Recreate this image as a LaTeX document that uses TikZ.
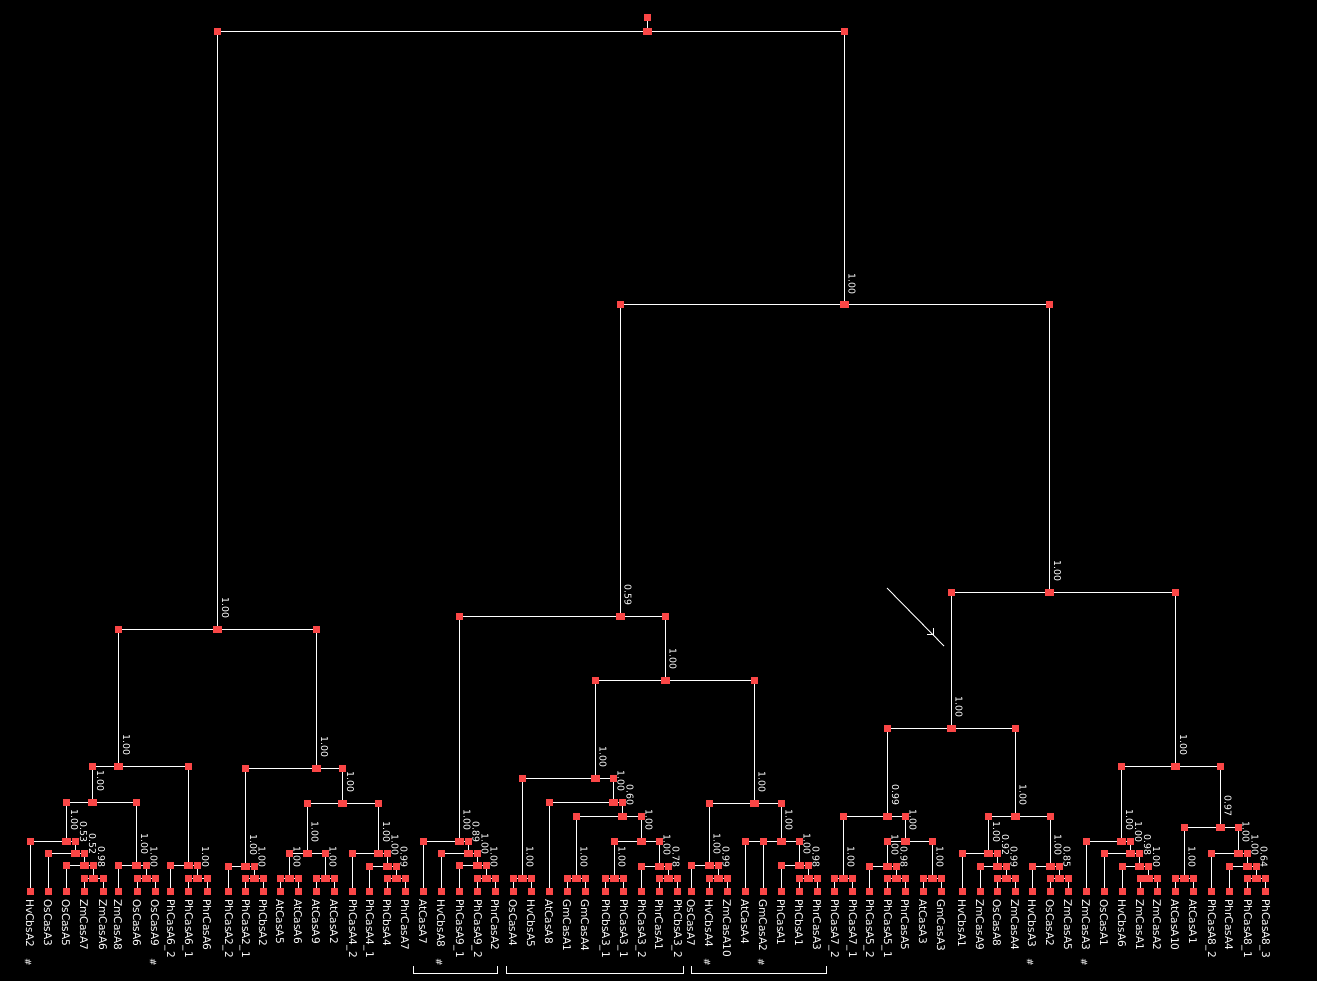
\documentclass[tikz,border=0pt]{standalone}
\usepackage{fontspec}
\setmainfont{DejaVu Sans}
\usetikzlibrary{calc}
\definecolor{sqred}{RGB}{250,70,70}
\pgfdeclarelayer{bg}
\pgfdeclarelayer{edges}
\pgfsetlayers{bg,edges,main}
\tikzset{
  sq/.style={rectangle,fill=sqred,minimum size=7pt,inner sep=0pt,outer sep=0pt},
  csq/.style={sq,minimum width=9pt},
  edge/.style={draw=white,line width=1pt},
  blab/.style={rotate=-90,anchor=east,inner sep=0pt,text=white,font=\fontsize{9.4}{10}\selectfont},
  llab/.style={rotate=-90,anchor=west,inner sep=0pt,text=white,font=\fontsize{10.6}{11}\selectfont},
  hashmark/.style={rotate=-90,inner sep=0pt,text=white,font=\fontsize{9}{10}\selectfont},
  bracket/.style={draw=white,line width=0.8pt},
}
\newcommand\kid[2]{%
  \begin{pgfonlayer}{edges}\draw[edge] (#1.center) -| (#2.center);\end{pgfonlayer}%
  \node[sq] at (#2 |- #1) {};}
\newcommand\inode[4]{%
  \node[csq] (#1) at (#2,#3) {};
  \node[blab] at ($(#1.center)+(8,-10)$) {#4};}
\newcommand\bnode[3]{\node[csq] (#1) at (#2,#3) {};}
\begin{document}
\begin{tikzpicture}[x=1pt,y=-1pt]
\begin{pgfonlayer}{bg}
\fill[black] (0,0) rectangle (1317,981);
\end{pgfonlayer}
\useasboundingbox (0,0) rectangle (1317,981);
% leaves
\foreach \i/\x/\t in {1/30/HvCbsA2,2/48/OsCasA3,3/66/OsCasA5,4/84/ZmCasA7,5/103/ZmCasA6,
 6/118/ZmCasA8,7/137/OsCasA6,8/155/OsCasA9,9/170/PhCasA6\_2,10/188/PhCasA6\_1,
 11/207/PhrCasA6,12/228/PhCasA2\_2,13/245/PhCasA2\_1,14/263/PhCbsA2,15/280/AtCasA5,
 16/298/AtCasA6,17/316/AtCasA9,18/334/AtCasA2,19/352/PhCasA4\_2,20/369/PhCasA4\_1,
 21/387/PhCbsA4,22/405/PhrCasA7,23/423/AtCasA7,24/441/HvCbsA8,25/459/PhCasA9\_1,
 26/477/PhCasA9\_2,27/495/PhrCasA2,28/513/OsCasA4,29/531/HvCbsA5,30/549/AtCasA8,
 31/567/GmCasA1,32/585/GmCasA4,33/605/PhCbsA3\_1,34/623/PhCasA3\_1,35/641/PhCasA3\_2,
 36/659/PhrCasA1,37/677/PhCbsA3\_2,38/691/OsCasA7,39/709/HvCbsA4,40/727/ZmCasA10,
 41/745/AtCasA4,42/763/GmCasA2,43/781/PhCasA1,44/799/PhCbsA1,45/817/PhrCasA3,
 46/834/PhCasA7\_2,47/852/PhCasA7\_1,48/869/PhCasA5\_2,49/887/PhCasA5\_1,50/905/PhrCasA5,
 51/923/AtCasA3,52/941/GmCasA3,53/962/HvCbsA1,54/980/ZmCasA9,55/997/OsCasA8,
 56/1015/ZmCasA4,57/1032/HvCbsA3,58/1050/OsCasA2,59/1068/ZmCasA5,60/1086/ZmCasA3,
 61/1104/OsCasA1,62/1122/HvCbsA6,63/1140/ZmCasA1,64/1157/ZmCasA2,65/1175/AtCasA10,
 66/1193/AtCasA1,67/1211/PhCasA8\_2,68/1229/PhrCasA4,69/1247/PhCasA8\_1,70/1265/PhCasA8\_3}
{
  \node[sq] (L\i) at (\x,891) {};
  \node[llab] at (\x,899) {\t};
}
\foreach \x in {30,155,441,709,763,1032,1086}
  \node[hashmark] at (\x-2,962) {\#};
% internal nodes
\bnode{root}{647.5}{32}
\node[sq] (top) at (647.5,18) {};
\inode{A}{217.5}{629}{1.00}
\inode{A1}{118.5}{766}{1.00}
\inode{n1to8}{92.5}{802}{1.00}
\inode{n1to5}{66.5}{841}{1.00}
\inode{n2to5}{75.5}{853}{0.53}
\inode{n3to5}{84.5}{865}{0.52}
\inode{n4to5}{93.5}{878}{0.98}
\inode{n6to8}{136.5}{865}{1.00}
\inode{n7to8}{146}{878}{1.00}
\bnode{n9to11}{188.5}{865}
\inode{n10to11}{197.5}{878}{1.00}
\inode{A2}{316.5}{768}{1.00}
\inode{n12to14}{245.5}{866}{1.00}
\inode{n13to14}{254}{878}{1.00}
\inode{n15to22}{342.5}{803}{1.00}
\inode{n15to18}{307}{853}{1.00}
\inode{n15to16}{289}{878}{1.00}
\inode{n17to18}{325}{878}{1.00}
\inode{n19to22}{378.5}{853}{1.00}
\inode{n20to22}{387}{866}{1.00}
\inode{n21to22}{396}{878}{0.99}
\inode{B}{844}{305}{1.00}
\inode{B1}{620}{616}{0.59}
\inode{n23to27}{459}{841}{1.00}
\inode{n24to27}{468}{853}{0.89}
\inode{n25to27}{477}{865}{1.00}
\inode{n26to27}{486}{878}{1.00}
\inode{n28to45}{665}{680}{1.00}
\inode{n28to37}{595}{778}{1.00}
\inode{n28to29}{522}{878}{1.00}
\inode{n30to37}{613}{802}{1.00}
\inode{n31to37}{622}{816}{0.60}
\inode{n31to32}{576}{878}{1.00}
\inode{n33to37}{641}{841}{1.00}
\inode{n33to34}{614}{878}{1.00}
\inode{n35to37}{659}{866}{1.00}
\inode{n36to37}{668}{878}{0.78}
\inode{n38to45}{754}{803}{1.00}
\inode{n38to40}{709}{865}{1.00}
\inode{n39to40}{718}{878}{0.99}
\inode{n41to45}{781}{841}{1.00}
\inode{n43to45}{799}{865}{1.00}
\inode{n44to45}{808}{878}{0.98}
\inode{B2}{1049.5}{592}{1.00}
\inode{n46to59}{951}{728}{1.00}
\inode{n46to52}{887.5}{816}{0.99}
\inode{n46to47}{843}{878}{1.00}
\inode{n48to52}{905}{841}{1.00}
\inode{n48to50}{887}{866}{1.00}
\inode{n49to50}{896}{878}{0.98}
\inode{n51to52}{932}{878}{1.00}
\inode{n53to59}{1015}{816}{1.00}
\inode{n53to56}{988.5}{853}{1.00}
\inode{n54to56}{997.5}{866}{0.92}
\inode{n55to56}{1006}{878}{0.99}
\inode{n57to59}{1050}{866}{1.00}
\inode{n58to59}{1059}{878}{0.85}
\inode{n60to70}{1175.5}{766}{1.00}
\inode{n60to64}{1121.5}{841}{1.00}
\inode{n61to64}{1130.5}{853}{1.00}
\inode{n62to64}{1139.5}{866}{0.98}
\inode{n63to64}{1148.5}{878}{1.00}
\inode{n65to70}{1220}{827}{0.97}
\inode{n65to66}{1184}{878}{1.00}
\inode{n67to70}{1238}{853}{1.00}
\inode{n68to70}{1247}{866}{1.00}
\inode{n69to70}{1256}{878}{0.64}
% connectors
\begin{pgfonlayer}{edges}\draw[edge] (root.center) -- (top.center);\end{pgfonlayer}
\kid{root}{A}\kid{root}{B}
\kid{A}{A1}\kid{A}{A2}
\kid{A1}{n1to8}\kid{A1}{n9to11}
\kid{n1to8}{n1to5}\kid{n1to8}{n6to8}
\kid{n1to5}{L1}\kid{n1to5}{n2to5}
\kid{n2to5}{L2}\kid{n2to5}{n3to5}
\kid{n3to5}{L3}\kid{n3to5}{n4to5}
\kid{n4to5}{L4}\kid{n4to5}{L5}
\kid{n6to8}{L6}\kid{n6to8}{n7to8}
\kid{n7to8}{L7}\kid{n7to8}{L8}
\kid{n9to11}{L9}\kid{n9to11}{n10to11}
\kid{n10to11}{L10}\kid{n10to11}{L11}
\kid{A2}{n12to14}\kid{A2}{n15to22}
\kid{n12to14}{L12}\kid{n12to14}{n13to14}
\kid{n13to14}{L13}\kid{n13to14}{L14}
\kid{n15to22}{n15to18}\kid{n15to22}{n19to22}
\kid{n15to18}{n15to16}\kid{n15to18}{n17to18}
\kid{n15to16}{L15}\kid{n15to16}{L16}
\kid{n17to18}{L17}\kid{n17to18}{L18}
\kid{n19to22}{L19}\kid{n19to22}{n20to22}
\kid{n20to22}{L20}\kid{n20to22}{n21to22}
\kid{n21to22}{L21}\kid{n21to22}{L22}
\kid{B}{B1}\kid{B}{B2}
\kid{B1}{n23to27}\kid{B1}{n28to45}
\kid{n23to27}{L23}\kid{n23to27}{n24to27}
\kid{n24to27}{L24}\kid{n24to27}{n25to27}
\kid{n25to27}{L25}\kid{n25to27}{n26to27}
\kid{n26to27}{L26}\kid{n26to27}{L27}
\kid{n28to45}{n28to37}\kid{n28to45}{n38to45}
\kid{n28to37}{n28to29}\kid{n28to37}{n30to37}
\kid{n28to29}{L28}\kid{n28to29}{L29}
\kid{n30to37}{L30}\kid{n30to37}{n31to37}
\kid{n31to37}{n31to32}\kid{n31to37}{n33to37}
\kid{n31to32}{L31}\kid{n31to32}{L32}
\kid{n33to37}{n33to34}\kid{n33to37}{n35to37}
\kid{n33to34}{L33}\kid{n33to34}{L34}
\kid{n35to37}{L35}\kid{n35to37}{n36to37}
\kid{n36to37}{L36}\kid{n36to37}{L37}
\kid{n38to45}{n38to40}\kid{n38to45}{n41to45}
\kid{n38to40}{L38}\kid{n38to40}{n39to40}
\kid{n39to40}{L39}\kid{n39to40}{L40}
\kid{n41to45}{L41}\kid{n41to45}{L42}\kid{n41to45}{n43to45}
\kid{n43to45}{L43}\kid{n43to45}{n44to45}
\kid{n44to45}{L44}\kid{n44to45}{L45}
\kid{B2}{n46to59}\kid{B2}{n60to70}
\kid{n46to59}{n46to52}\kid{n46to59}{n53to59}
\kid{n46to52}{n46to47}\kid{n46to52}{n48to52}
\kid{n46to47}{L46}\kid{n46to47}{L47}
\kid{n48to52}{n48to50}\kid{n48to52}{n51to52}
\kid{n48to50}{L48}\kid{n48to50}{n49to50}
\kid{n49to50}{L49}\kid{n49to50}{L50}
\kid{n51to52}{L51}\kid{n51to52}{L52}
\kid{n53to59}{n53to56}\kid{n53to59}{n57to59}
\kid{n53to56}{L53}\kid{n53to56}{n54to56}
\kid{n54to56}{L54}\kid{n54to56}{n55to56}
\kid{n55to56}{L55}\kid{n55to56}{L56}
\kid{n57to59}{L57}\kid{n57to59}{n58to59}
\kid{n58to59}{L58}\kid{n58to59}{L59}
\kid{n60to70}{n60to64}\kid{n60to70}{n65to70}
\kid{n60to64}{L60}\kid{n60to64}{n61to64}
\kid{n61to64}{L61}\kid{n61to64}{n62to64}
\kid{n62to64}{L62}\kid{n62to64}{n63to64}
\kid{n63to64}{L63}\kid{n63to64}{L64}
\kid{n65to70}{n65to66}\kid{n65to70}{n67to70}
\kid{n65to66}{L65}\kid{n65to66}{L66}
\kid{n67to70}{L67}\kid{n67to70}{n68to70}
\kid{n68to70}{L68}\kid{n68to70}{n69to70}
\kid{n69to70}{L69}\kid{n69to70}{L70}
% brackets
\draw[bracket] (413,966) |- (497,973) -- (497,966);
\draw[bracket] (506,966) |- (683,973) -- (683,966);
\draw[bracket] (691,966) |- (826,973) -- (826,966);
% marker line with arrow mark
\draw[white,line width=0.9pt] (887,588) -- (944,646);
\draw[white,line width=0.8pt] (933,628) -- (933,634.5) -- (927,634.5);
\end{tikzpicture}
\end{document}
